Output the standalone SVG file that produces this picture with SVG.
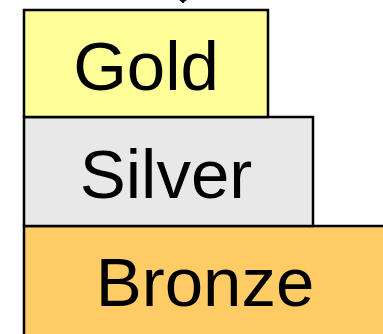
<svg xmlns="http://www.w3.org/2000/svg" width="383" height="334" viewBox="0 0 383 334">
<style>
.box{stroke:#000;stroke-width:2.5}
.lbl{font-family:"Liberation Sans",Arial,sans-serif;font-size:69px;fill:#000;text-anchor:middle}
</style>
<defs>
<marker id="ah" markerWidth="8" markerHeight="18" refX="7" refY="9" orient="auto" markerUnits="userSpaceOnUse">
<path d="M0,0 L7,9 L0,18 Z" fill="#000"/>
</marker>
</defs>
<g id="connectors">
<line x1="183" y1="-30" x2="183" y2="3" stroke="#000" stroke-width="1.5" marker-end="url(#ah)"/>
</g>
<g id="bronze">
<rect class="box" x="24" y="226" width="370" height="120" fill="#FFCC66"/>
<text class="lbl" x="205" y="306">Bronze</text>
</g>
<g id="silver">
<rect class="box" x="24" y="117" width="289" height="109" fill="#E8E8E8"/>
<text class="lbl" x="166" y="198">Silver</text>
</g>
<g id="gold">
<rect class="box" x="24" y="10" width="244" height="107" fill="#FFFF99"/>
<text class="lbl" x="146" y="90">Gold</text>
</g>
</svg>
